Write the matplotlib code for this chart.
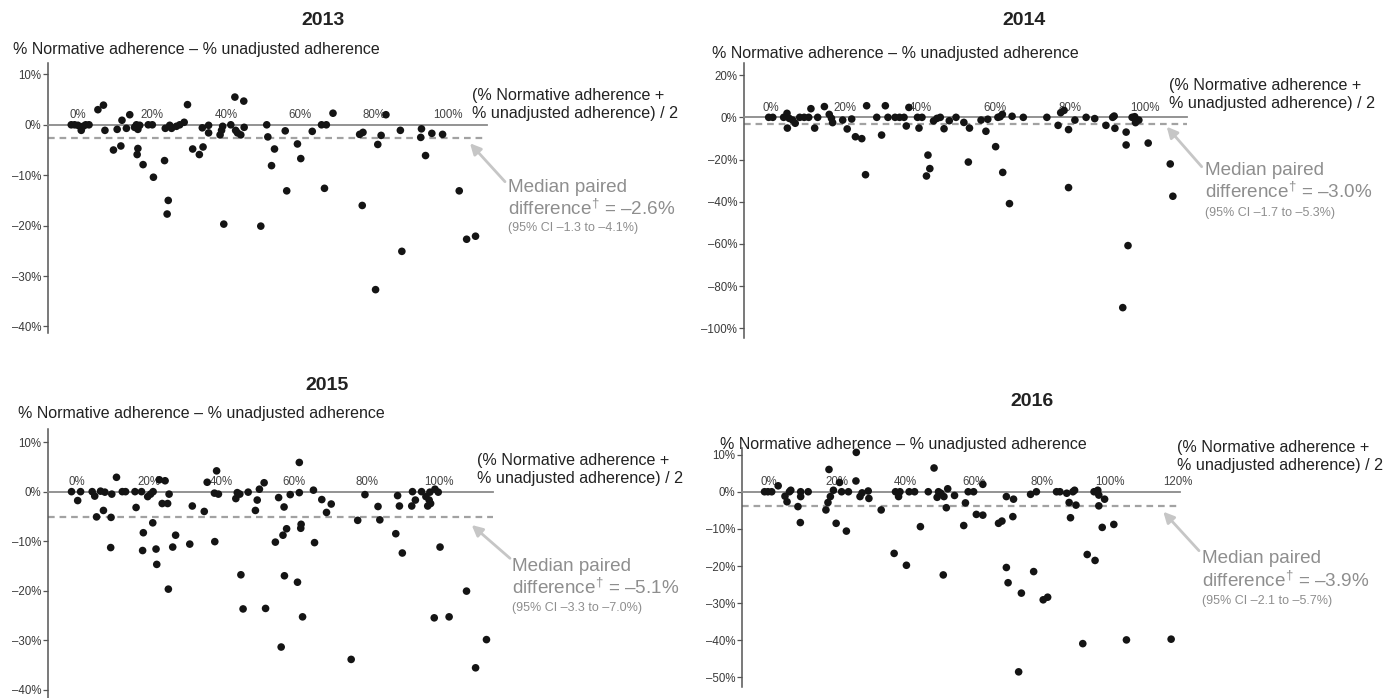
import matplotlib
matplotlib.use("Agg")
import matplotlib.pyplot as plt

plt.rcParams['font.family'] = ['Liberation Sans', 'DejaVu Sans']
plt.rcParams['mathtext.fontset'] = 'custom'
plt.rcParams['mathtext.rm'] = 'Liberation Sans'
plt.rcParams['mathtext.it'] = 'Liberation Sans'
plt.rcParams['mathtext.bf'] = 'Liberation Sans:bold'

W, H = 1398, 698

# ---------------- data ----------------
years = ["2013", "2014", "2015", "2016"]

pts_2013 = [(-1.8, 0), (-0.9, 0), (0, -0.1), (0.9, -1.1), (1.4, -0.3), (2.1, 0), (3.0, 0),
            (5.4, 3.0), (6.9, 3.9), (7.3, -1.1), (9.6, -5.0), (10.6, -0.9), (11.6, -4.2),
            (11.9, 0.9), (13.1, -0.7), (14.0, 2.0), (15.3, -0.5), (15.8, 0), (16.2, -0.9),
            (16.7, -0.1), (16.2, -4.7), (16.0, -5.9), (17.6, -7.9), (19.0, 0), (20.1, 0),
            (20.4, -10.4), (23.4, -7.1), (23.6, -0.7), (24.4, -15.0), (24.1, -17.7),
            (24.8, -0.1), (25.3, -0.7), (26.6, -0.3), (27.5, 0), (28.7, 0.5), (29.6, 4.0),
            (31.0, -4.8), (32.8, -5.9), (33.8, -4.4), (33.6, -0.6), (35.3, -0.1), (35.3, -1.6),
            (38.4, -2.0), (38.8, -1.1), (39.1, -0.3), (39.4, -19.7), (41.3, 0), (42.4, 5.5),
            (42.6, -1.1), (43.1, -1.6), (44.0, -2.0), (44.8, 4.7), (44.9, -0.5), (49.4, -20.1),
            (51.0, 0), (51.3, -2.4), (53.1, -4.8), (52.3, -8.1), (56.0, -1.2), (56.4, -13.1),
            (59.3, -3.8), (60.2, -6.7), (63.3, -1.3), (65.8, 0), (67.1, 0), (66.6, -12.6),
            (68.9, 2.3), (76.1, -1.9), (77.0, -1.5), (76.8, -16.0), (80.4, -32.7), (81.0, -3.9),
            (81.9, -2.1), (83.2, 2.0), (87.1, -1.1), (87.5, -25.1), (92.8, -0.8), (92.6, -2.5),
            (93.9, -6.1), (95.6, -1.7), (98.5, -1.9), (103.0, -13.1), (105.0, -22.7),
            (107.4, -22.1)]

pts_2014 = [(-0.5, 0), (0.6, 0), (3.5, 0), (4.4, 1.9), (4.5, -5.1), (5.0, -0.5), (5.9, -1.3),
            (6.6, -2.8), (7.8, 0), (9.0, 0), (10.2, 0), (10.8, 4.1), (11.8, -5.1), (12.6, 0),
            (14.4, 5.1), (15.7, 1.4), (16.3, -0.5), (16.6, -2.5), (19.3, -1.3), (20.5, -5.5),
            (21.7, -0.8), (22.7, -9.2), (24.4, -10.1), (25.4, -27.2), (25.7, 5.5), (28.4, 0),
            (29.7, -8.4), (30.7, 5.5), (31.4, 0), (33.3, 0), (34.5, 0), (35.7, 0), (36.3, -4.1),
            (37.0, 4.7), (39.3, 0), (39.7, -5.1), (40.5, 0), (41.7, -27.8), (42.1, -17.9),
            (42.6, -24.3), (43.6, -1.7), (44.5, -0.5), (45.4, 0), (46.4, -5.4), (47.8, -1.6),
            (49.6, 0), (51.7, -2.4), (52.9, -21.2), (53.2, -5.1), (56.3, -1.3), (57.6, -6.6),
            (58.1, -0.9), (60.2, -13.9), (60.8, 0), (61.4, 0.3), (62.0, 1.4), (62.1, -26.1),
            (63.9, -40.9), (64.6, 0.5), (67.6, 0), (73.9, 0), (76.9, -3.8), (77.6, 2.2),
            (78.5, 3.3), (79.7, -5.8), (79.7, -33.3), (81.4, -1.3), (84.4, 0), (86.7, -0.6),
            (89.7, -3.8), (91.5, 0), (91.9, 0.6), (92.1, -5.2), (94.2, -90.2), (95.1, -7.0),
            (95.1, -13.1), (95.6, -60.8), (96.7, 0), (97.4, 0.3), (97.6, -2.5), (98.5, -1.3),
            (101.0, -12.2), (106.9, -22.1), (107.6, -37.4)]

pts_2015 = [(-1.4, 0), (0.3, -1.8), (1.1, 0), (4.3, 0), (5.0, -0.9), (5.5, -5.1), (6.6, 0.1),
            (7.4, -3.8), (7.8, -0.1), (9.5, -5.2), (9.4, -11.3), (9.7, -0.5), (11.0, 2.9),
            (12.6, 0), (13.5, 0), (16.1, 0), (16.4, -3.2), (17.9, 0), (18.4, -8.3), (18.2, -11.9),
            (19.6, -1.0), (20.4, -0.5), (21.0, -6.3), (21.1, 0), (21.9, -11.6), (22.1, -14.7),
            (22.8, 2.4), (23.6, -2.4), (24.4, 2.2), (25.1, -2.4), (25.3, -19.7), (25.5, -0.5),
            (26.5, -11.2), (27.3, -8.8), (31.2, -10.6), (31.9, -2.9), (35.2, -4.0), (36.0, 1.9),
            (38.0, -0.3), (38.1, -10.1), (38.6, 4.2), (39.1, -0.5), (43.9, -1.4), (44.3, -0.2),
            (45.0, -0.5), (45.3, -16.8), (45.9, -23.7), (47.3, -0.1), (49.3, -3.8), (49.8, -1.7),
            (50.4, 0.5), (51.7, 1.8), (52.1, -23.6), (54.8, -10.2), (55.7, -1.2), (56.4, -31.4),
            (56.9, -8.8), (57.2, -3.1), (57.3, -17.0), (57.9, -7.5), (58.9, -0.6), (60.9, -18.3),
            (61.4, 5.9), (61.4, -0.2), (61.9, -6.6), (61.8, -7.4), (62.3, -25.3), (65.3, 0.3),
            (65.6, -10.3), (67.6, -1.6), (68.9, -4.2), (70.2, -2.5), (75.7, -33.9), (77.5, -5.8),
            (79.5, -0.6), (83.1, -3.0), (83.6, -5.7), (88.0, -8.5), (88.5, -0.8), (89.0, -2.9),
            (89.8, -12.4), (92.4, -2.9), (92.6, 0), (93.4, -1.7), (95.1, 0), (96.3, -1.0),
            (96.8, -2.9), (97.2, -1.7), (97.6, -2.4), (97.4, -0.1), (98.8, 0.5), (99.7, -0.1),
            (98.6, -25.5), (100.2, -11.2), (102.7, -25.3), (107.5, -20.1), (110.0, -35.6),
            (113.0, -29.9)]

pts_2016 = [(-1.3, 0), (-0.3, 0), (0.8, 0), (2.7, 1.6), (4.7, -1.2), (5.3, -2.7), (6.0, 0),
            (6.4, 0.4), (8.5, -4.0), (9.2, -8.3), (9.3, -1.3), (9.3, 0), (11.5, 0), (16.7, -4.9),
            (17.3, -2.9), (17.6, 6.0), (18.0, -1.3), (18.9, 0.4), (19.7, -8.5), (20.7, 2.5),
            (21.3, 0), (22.7, -10.6), (23.3, 0), (25.6, 10.6), (25.5, 2.9), (26.7, -1.3),
            (27.3, -0.3), (29.1, 0.2), (29.3, -1.8), (32.9, -4.9), (36.7, -16.6), (37.1, 0),
            (38.0, -1.3), (38.4, 0), (40.3, -19.8), (41.1, 0), (42.7, 0), (44.4, -9.4), (46.7, 0),
            (48.4, 6.4), (49.3, -1.5), (49.7, 0), (50.4, -0.4), (51.1, -22.4), (51.3, -1.3),
            (52.0, -4.3), (52.4, 0.8), (54.4, -1.0), (57.1, -9.1), (57.6, -3.0), (58.4, 0),
            (60.0, 0), (60.8, -6.1), (62.7, 2.0), (62.7, -6.3), (67.3, -8.5), (68.3, -7.9),
            (69.6, -1.3), (69.6, -20.4), (70.1, -24.5), (71.5, -6.7), (71.7, -2.0), (73.2, -48.5),
            (74.0, -27.3), (76.7, -0.7), (77.6, -21.5), (78.4, 0), (80.4, -29.1), (81.7, -28.4),
            (84.3, 0), (85.3, 0), (87.3, -0.4), (88.0, -2.9), (88.4, -7.0), (89.1, 0), (89.6, 0.4),
            (90.0, -3.6), (92.0, -40.9), (93.3, -16.9), (95.3, 0), (95.6, -18.5), (96.4, 0.4),
            (96.7, -3.8), (96.7, -0.9), (97.7, -9.6), (98.4, -2.0), (101.1, -8.8), (104.8, -39.9),
            (117.9, -39.7)]

points = [pts_2013, pts_2014, pts_2015, pts_2016]

medians = [-2.6, -3.0, -5.1, -3.9]
median_texts = ["\u20132.6%", "\u20133.0%", "\u20135.1%", "\u20133.9%"]
ci_texts = ["(95% CI \u20131.3 to \u20134.1%)", "(95% CI \u20131.7 to \u20135.3%)",
            "(95% CI \u20133.3 to \u20137.0%)", "(95% CI \u20132.1 to \u20135.7%)"]

yticks_2013 = [10, 0, -10, -20, -30, -40]
yticks_2014 = [20, 0, -20, -40, -60, -80, -100]
yticks_2015 = [10, 0, -10, -20, -30, -40]
yticks_2016 = [10, 0, -10, -20, -30, -40, -50]
yticks = [yticks_2013, yticks_2014, yticks_2015, yticks_2016]

xticks_a = [0, 20, 40, 60, 80, 100]
xticks_b = [0, 20, 40, 60, 80, 100, 120]
xticks = [xticks_a, xticks_a, xticks_a, xticks_b]

ylabel_text = "% Normative adherence \u2013 % unadjusted adherence"
xlabel_text = "(% Normative adherence +\n% unadjusted adherence) / 2"


def pct(v):
    return ("%d%%" % v).replace("-", "\u2013")


# ---------------- layout (pixels) ----------------
layout = [
    dict(rect=(48.3, 487, 63.3, 333), xlim=(-8.0, 110.5), ylim=(-41.3, 12.2),
         title=(323, 20.7), ylab=(13, 49.3), xlab=(472.3, 104.2), med=(508.3, 199.2),
         ci=(508.3, 228), tail=(505, 181.7), tip=(470, 143.3)),
    dict(rect=(744, 1186.7, 62.7, 338), xlim=(-7.1, 111.3), ylim=(-104.6, 25.9),
         title=(1024, 20.7), ylab=(711.7, 53.3), xlab=(1169.3, 94.2), med=(1205, 182),
         ci=(1205, 212.7), tail=(1201.7, 166.7), tip=(1166.7, 126.7)),
    dict(rect=(48.3, 493, 429.3, 698), xlim=(-7.8, 114.8), ylim=(-41.7, 12.6),
         title=(327.3, 385), ylab=(18.3, 413.3), xlab=(477.3, 469.2), med=(511.7, 578.3),
         ci=(511.7, 608.3), tail=(510, 558.3), tip=(471.7, 525)),
    dict(rect=(742, 1180, 448.3, 686.7), xlim=(-7.9, 120.5), ylim=(-52.5, 11.7),
         title=(1031.7, 401.7), ylab=(720, 445), xlab=(1176.7, 456.3), med=(1201.7, 570.5),
         ci=(1201.7, 600.7), tail=(1199, 550.7), tip=(1163.3, 511.7)),
]

fig = plt.figure(figsize=(W / 100, H / 100), dpi=100)
fig.patch.set_facecolor("white")


def fx(x):
    return x / W


def fy(y):
    return 1 - y / H


for i, yr in enumerate(years):
    L = layout[i]
    l, r, t, b = L["rect"]
    ax = fig.add_axes([fx(l), fy(b), (r - l) / W, (b - t) / H])
    ax.set_xlim(*L["xlim"])
    ax.set_ylim(*L["ylim"])
    ax.patch.set_alpha(0)

    xs, ys = zip(*points[i])
    ax.scatter(xs, ys, s=30, color="#141414", edgecolors="none", zorder=4, clip_on=False)

    ax.axhline(medians[i], color="#a2a2a2", lw=1.6, dashes=(3, 2.2), zorder=2)

    for s in ("bottom", "right"):
        ax.spines[s].set_visible(False)
    ax.spines["left"].set_color("#555555")
    ax.spines["left"].set_linewidth(1.1)
    ax.spines["top"].set_position(("data", 0))
    ax.spines["top"].set_color("#8a8a8a")
    ax.spines["top"].set_linewidth(1.3)
    ax.spines["top"].set_zorder(3)

    ax.set_yticks(yticks[i])
    ax.set_yticklabels([pct(v) for v in yticks[i]])
    ax.tick_params(axis="y", direction="out", length=3.5, width=0.9, color="#555555",
                   pad=1.5, labelsize=8.3, labelcolor="#3a3a3a")

    ax.xaxis.set_ticks_position("top")
    ax.set_xticks(xticks[i])
    ax.set_xticklabels([pct(v) for v in xticks[i]])
    ax.tick_params(axis="x", length=0, pad=2.5, labelsize=8.3, labelcolor="#444444",
                   labeltop=True, labelbottom=False)

    fig.text(fx(L["title"][0]), fy(L["title"][1]), yr, ha="center", va="center",
             fontsize=14, fontweight="bold", color="#222222")
    fig.text(fx(L["ylab"][0]), fy(L["ylab"][1]), ylabel_text, ha="left", va="center",
             fontsize=11.5, color="#222222")
    fig.text(fx(L["xlab"][0]), fy(L["xlab"][1]), xlabel_text, ha="left", va="center",
             fontsize=11.6, color="#222222", linespacing=1.25)
    fig.text(fx(L["med"][0]), fy(L["med"][1]),
             "Median paired\ndifference$^{\u2020}$ = " + median_texts[i], ha="left",
             va="center", fontsize=13.6, color="#8e8e8e", linespacing=1.2)
    fig.text(fx(L["ci"][0]), fy(L["ci"][1]), ci_texts[i], ha="left", va="center",
             fontsize=9, color="#8e8e8e")
    fig.add_artist(matplotlib.patches.FancyArrowPatch(
        (fx(L["tail"][0]), fy(L["tail"][1])), (fx(L["tip"][0]), fy(L["tip"][1])),
        transform=fig.transFigure, arrowstyle="-|>", mutation_scale=16,
        color="#c6c6c6", lw=2.0, shrinkA=0, shrinkB=0))

fig.savefig("out.png", dpi=100, facecolor="white")
